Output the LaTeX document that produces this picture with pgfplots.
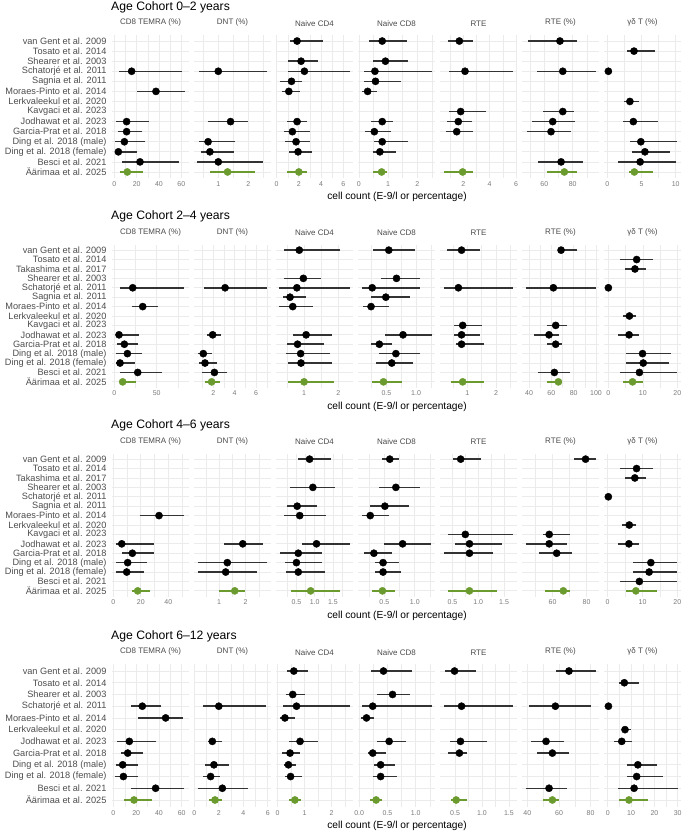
\documentclass[border=0pt]{standalone}
\usepackage{fontspec}
\setmainfont{Liberation Sans}
\usepackage{pgfplots}
\usepackage{pgfplotstable}
\pgfplotsset{compat=1.18}

\definecolor{gridc}{HTML}{EBEBEB}
\definecolor{aarc}{HTML}{6B9A2F}
\definecolor{cic}{HTML}{333333}
\definecolor{tickc}{HTML}{7A7A7A}
\definecolor{labc}{HTML}{4D4D4D}
\definecolor{stripc}{HTML}{4A4A4A}

\newcommand{\noticklabel}{}

\pgfkeys{/pgfplots/table/ft/.style={x=m, y=r,
  x error plus expr={\thisrow{hi}-\thisrow{m}},
  x error minus expr={\thisrow{m}-\thisrow{lo}}}}

\pgfplotsset{
  panel/.style={scale only axis, width=77pt, height=143pt, anchor=north west,
    axis line style={draw=none}, tick style={draw=none}, major tick length=0pt, minor tick length=0pt,
    xmajorgrids=true, xminorgrids=true, ymajorgrids=true,
    major grid style={color=gridc, line width=0.75pt},
    minor grid style={color=gridc, line width=0.4pt},
    clip=false, yticklabel=\noticklabel,
    title style={at={(0.5,1)}, anchor=south, yshift=1.5pt, inner sep=1pt,
      font=\fontsize{8}{9}\selectfont, text=stripc},
    xticklabel style={font=\fontsize{7}{8}\selectfont, text=tickc},
    yticklabel style={font=\fontsize{9.2}{11}\selectfont, text=labc, xshift=-2pt}},
  cis/.style={only marks, mark=none, forget plot,
    error bars/.cd, x dir=both, x explicit, error mark=none,
    error bar style={line width=1.5pt, color=#1}, /pgfplots/.cd},
  pts/.style={only marks, mark=*, mark size=3.6pt, color=#1,
    mark options={draw=#1, fill=#1}, forget plot},
}

% black studies first, reference cohort (row 1, first line of each table) in green on top
\newcommand{\forest}[1]{%
  \addplot[skip coords between index={0}{1}, cis=cic] table[ft]{#1};
  \addplot[skip coords between index={1}{100}, cis=aarc] table[ft]{#1};
  \addplot[skip coords between index={0}{1}, pts=black] table[ft]{#1};
  \addplot[skip coords between index={1}{100}, pts=aarc] table[ft]{#1};
}
% [extra] column xmin xmax ticks ticklabels minorticks strip table
\newcommand{\panel}[9][]{%
  \begin{axis}[panel, cur, at={({112pt+82pt*#2},{-\ctop pt})},
    xmin=#3, xmax=#4, xtick={#5}, xticklabels={#6}, minor xtick={#7}, title={#8}, #1]
    \forest{#9}
  \end{axis}}

% ---------- Age 0-2 (rows: 1 = Äärimaa ... 14 = van Gent) ----------
\pgfplotstableread{
r m lo hi
1 11.6 5 25.4
11 15.5 4.2 60.3
9 37.3 20 63.3
6 11 1.5 31
5 11 3 24.5
4 9 0.6 27.5
3 3.6 0.6 20
2 23 6.6 58
}\Atemra
\pgfplotstableread{
r m lo hi
1 1.31 0.72 2.22
11 1.0 0.36 2.61
6 1.41 0.67 2.0
4 0.66 0.36 1.56
3 0.72 0.44 1.53
2 1.0 0.3 2.5
}\Adnt
\pgfplotstableread{
r m lo hi
1 2.0 0.95 2.73
14 1.84 1.19 4.15
12 2.2 1.0 3.7
11 2.5 1.0 6.6
10 1.34 0.3 2.3
9 1.1 0.45 2.14
6 1.84 0.9 2.73
5 1.42 0.65 3.0
4 1.75 0.8 2.97
3 1.93 1.1 3.2
}\Acdf
\pgfplotstableread{
r m lo hi
1 0.78 0.47 0.98
14 0.8 0.35 1.66
12 0.91 0.49 1.69
11 0.55 0.17 2.49
10 0.57 0.18 1.46
9 0.3 0.09 0.61
6 0.8 0.43 1.18
5 0.53 0.2 1.1
4 0.8 0.53 1.67
3 0.72 0.47 1.26
}\Acde
\pgfplotstableread{
r m lo hi
1 1.95 0.56 2.7
14 1.7 0.86 2.7
11 2.13 0.94 5.8
7 1.8 0.94 3.7
6 1.62 0.73 2.63
5 1.5 0.66 2.7
}\Arte
\pgfplotstableread{
r m lo hi
1 74.1 62.1 82.8
14 71 48.7 82.8
11 73 55 96.2
7 73 59.3 81
6 65.9 51 81.6
5 64.7 47.5 78.6
2 71.8 55.8 87
}\Artp
\pgfplotstableread{
r m lo hi
1 3.95 3.1 6.7
13 3.9 2.9 7.0
11 0.15 0.15 0.15
8 3.3 2.4 4.7
6 3.8 2.3 7.4
4 4.9 3.3 10.2
3 5.5 3.6 9.1
2 4.8 1.6 10.1
}\Agd

% ---------- Age 2-4 (rows: 1 = Äärimaa ... 15 = van Gent) ----------
\pgfplotstableread{
r m lo hi
1 9.8 6.7 25.6
11 21.7 6.7 82.7
9 33.5 20.5 52
6 5.5 1.6 29.5
5 11.8 2.8 28.3
4 15.4 1.6 32.3
3 6.7 1.6 24.4
2 27.6 6.7 56
}\Btemra
\pgfplotstableread{
r m lo hi
1 1.84 1.22 2.6
11 3.1 1.13 7.0
6 1.94 1.38 2.69
4 1.06 0.53 1.84
3 1.22 0.69 2.37
2 2.1 0.9 3.25
}\Bdnt
\pgfplotstableread{
r m lo hi
1 1.0 0.54 1.88
15 0.86 0.42 2.05
12 0.98 0.42 1.49
11 0.79 0.28 2.34
10 0.59 0.38 1.06
9 0.67 0.28 1.27
6 1.06 0.69 1.83
5 0.81 0.5 1.59
4 0.9 0.47 1.76
3 0.91 0.52 1.83
}\Bcdf
\pgfplotstableread{
r m lo hi
1 0.45 0.25 0.76
15 0.54 0.28 0.99
12 0.67 0.41 1.07
11 0.26 0.08 1.07
10 0.49 0.24 0.89
9 0.24 0.11 0.54
6 0.78 0.48 1.27
5 0.38 0.24 0.6
4 0.66 0.38 1.07
3 0.59 0.33 0.95
}\Bcde
\pgfplotstableread{
r m lo hi
1 0.84 0.45 1.59
15 0.8 0.3 1.44
11 0.69 0.19 2.58
7 0.84 0.55 1.5
6 0.8 0.53 1.44
5 0.8 0.59 1.59
}\Brte
\pgfplotstableread{
r m lo hi
1 66.3 56.4 69.9
15 68.7 65.7 82.7
11 61.8 37.3 100
7 63.9 55.8 73.7
6 57.9 44.5 67.2
5 63.9 55.8 69.9
2 62.7 48.4 76.7
}\Brtp
\pgfplotstableread{
r m lo hi
1 7.0 4.1 10.0
14 8.2 3.4 12.9
13 7.7 4.8 10.9
11 0.0 0.0 0.0
8 6.1 4.2 8.0
6 6.0 2.9 9.0
4 9.9 5.0 18.1
3 10.1 5.1 17.7
2 9.0 3.4 20.0
}\Bgd

% ---------- Age 4-6 (rows: 1 = Äärimaa ... 15 = van Gent) ----------
\pgfplotstableread{
r m lo hi
1 17.7 13.8 26.6
9 33.2 19.4 51.6
6 6.1 1.7 29.5
5 13.8 6.5 29.5
4 10.4 1.9 24.2
3 9.7 1.7 22.5
}\Ctemra
\pgfplotstableread{
r m lo hi
1 1.59 1.0 1.98
6 1.89 1.2 2.66
4 1.31 0.2 2.79
3 1.25 0.2 2.41
}\Cdnt
\pgfplotstableread{
r m lo hi
1 0.89 0.35 1.69
15 0.86 0.55 1.46
12 0.95 0.31 1.56
10 0.52 0.24 1.07
9 0.59 0.15 1.3
6 1.05 0.66 1.98
5 0.55 0.04 1.21
4 0.5 0.18 1.21
3 0.55 0.22 1.29
}\Ccdf
\pgfplotstableread{
r m lo hi
1 0.47 0.3 0.68
15 0.59 0.47 0.74
12 0.69 0.42 1.09
10 0.51 0.26 0.91
9 0.27 0.13 0.57
6 0.8 0.5 1.27
5 0.33 0.16 0.62
4 0.48 0.35 0.74
3 0.48 0.34 0.78
}\Ccde
\pgfplotstableread{
r m lo hi
1 0.83 0.42 1.37
15 0.66 0.52 1.05
7 0.75 0.42 1.68
6 0.83 0.55 1.45
5 0.83 0.34 1.29
}\Crte
\pgfplotstableread{
r m lo hi
1 66.3 55.5 70.2
15 79.4 72.7 85.3
7 58 54.5 70.2
6 58 44.3 68.2
5 62.4 52.2 71.2
}\Crtp
\pgfplotstableread{
r m lo hi
1 8.1 5.3 14.3
14 8.3 3.5 12.9
13 7.8 5.0 11.0
11 0.2 0.2 0.2
8 6.2 4.2 8.1
6 6.1 3.1 9.1
4 12.4 7.2 20.0
3 11.9 7.2 19.8
2 9.1 3.5 20.0
}\Cgd

% ---------- Age 6-12 (rows: 1 = Äärimaa ... 12 = van Gent) ----------
\pgfplotstableread{
r m lo hi
1 18.1 9.4 33.6
9 25.4 15.5 41.5
8 45.9 21.9 61.4
6 14 3.5 37.1
5 12.6 6.7 26.3
4 8.2 2 21.3
3 8.8 1.5 21.3
2 37.1 15.5 62.3
}\Dtemra
\pgfplotstableread{
r m lo hi
1 1.69 1.22 2.23
9 2.0 0.74 5.9
6 1.47 1.14 2.23
4 1.6 0.87 2.86
3 1.33 0.74 2.1
2 2.29 0.27 4.41
}\Ddnt
\pgfplotstableread{
r m lo hi
1 0.64 0.43 0.86
12 0.6 0.36 1.13
10 0.56 0.3 1.0
9 0.7 0.19 2.68
8 0.27 0.09 0.64
6 0.83 0.42 1.5
5 0.46 0.15 0.83
4 0.4 0.23 0.67
3 0.48 0.27 0.89
}\Dcdf
\pgfplotstableread{
r m lo hi
1 0.3 0.19 0.41
12 0.43 0.21 0.94
10 0.59 0.32 0.89
9 0.24 0.05 1.28
8 0.13 0.03 0.27
6 0.53 0.32 0.83
5 0.24 0.15 0.47
4 0.38 0.26 0.64
3 0.38 0.24 0.66
}\Dcde
\pgfplotstableread{
r m lo hi
1 0.52 0.42 0.72
12 0.49 0.31 0.89
9 0.62 0.3 1.58
6 0.6 0.41 1.09
5 0.58 0.37 0.72
}\Drte
\pgfplotstableread{
r m lo hi
1 55.8 50.1 60.2
12 66.3 58.1 83.2
9 57.7 41 80
6 51.8 42.1 63.4
5 55.8 46.3 66.3
2 53.7 39.2 65.3
}\Drtp
\pgfplotstableread{
r m lo hi
1 9.1 5 17.1
11 7.1 5 13.6
9 0.3 0.3 0.3
7 7.4 6 9.9
6 6 2.7 10.6
4 12.9 8.4 21
3 12.4 8.1 23.6
2 11.3 4.6 30
}\Dgd

\newcommand{\cohorttext}[2]{%
  \node[anchor=west, inner sep=0pt, font=\fontsize{12.2}{14}\selectfont] at (111pt,{-#1pt+28pt}) {#2};
  \node[inner sep=0pt, font=\fontsize{10.2}{12}\selectfont] at (397pt,{-#1pt-162pt}) {cell count (E-9/l or percentage)};
}

\begin{document}
\begin{tikzpicture}
\useasboundingbox (0pt,0pt) rectangle (685pt,-833pt);

% ===== 0-2 years =====
\def\ctop{35}
\pgfplotsset{cur/.style={ymin=0.4, ymax=14.6, ytick={1,...,14}}}
\cohorttext{35}{Age Cohort 0–2 years}
\panel[yticklabels={Äärimaa et al. 2025, Besci et al. 2021, Ding et al. 2018 (female), Ding et al. 2018 (male), Garcia-Prat et al. 2018, Jodhawat et al. 2023, Kavgaci et al. 2023, Lerkvaleekul et al. 2020, Moraes-Pinto et al. 2014, Sagnia et al. 2011, Schatorjé et al. 2011, Shearer et al. 2003, Tosato et al. 2014, van Gent et al. 2009}]
  {0}{-2.1}{66.9}{0,20,40,60}{0,20,40,60}{10,30,50}{CD8 TEMRA (\%)}{\Atemra}
\panel{1}{0.19}{2.76}{1,2}{1,2}{0.5,1.5,2.5}{DNT (\%)}{\Adnt}
\panel{2}{-0.05}{6.86}{0,2,4,6}{0,2,4,6}{1,3,5}{Naive CD4}{\Acdf}
\panel{3}{-0.03}{2.61}{0,1,2}{0,1,2}{0.5,1.5,2.5}{Naive CD8}{\Acde}
\panel{4}{0.23}{6.08}{2,4,6}{2,4,6}{1,3,5}{RTE}{\Arte}
\panel{5}{44.2}{98.6}{60,80}{60,80}{50,70,90}{RTE (\%)}{\Artp}
\panel{6}{-0.49}{10.78}{0,5,10}{0,5,10}{2.5,7.5}{γδ T (\%)}{\Agd}

% ===== 2-4 years =====
\def\ctop{244.5}
\pgfplotsset{cur/.style={ymin=0.4, ymax=15.6, ytick={1,...,15}}}
\cohorttext{244.5}{Age Cohort 2–4 years}
\panel[yticklabels={Äärimaa et al. 2025, Besci et al. 2021, Ding et al. 2018 (female), Ding et al. 2018 (male), Garcia-Prat et al. 2018, Jodhawat et al. 2023, Kavgaci et al. 2023, Lerkvaleekul et al. 2020, Moraes-Pinto et al. 2014, Sagnia et al. 2011, Schatorjé et al. 2011, Shearer et al. 2003, Takashima et al. 2017, Tosato et al. 2014, van Gent et al. 2009}]
  {0}{-2.8}{88.2}{0,50}{0,50}{25,75}{CD8 TEMRA (\%)}{\Btemra}
\panel{1}{0.19}{7.4}{2,4,6}{2,4,6}{1,3,5,7}{DNT (\%)}{\Bdnt}
\panel{2}{0.18}{2.43}{1,2}{1,2}{0.5,1.5}{Naive CD4}{\Bcdf}
\panel{3}{0.02}{1.32}{0,0.5,1}{0.0,0.5,1.0}{0.25,0.75,1.25}{Naive CD8}{\Bcde}
\panel{4}{0.05}{2.73}{1,2}{1,2}{0.5,1.5,2.5}{RTE}{\Brte}
\panel{5}{33.7}{102.7}{40,60,80,100}{40,60,80,100}{50,70,90}{RTE (\%)}{\Brtp}
\panel{6}{-1.27}{21.05}{0,10,20}{0,10,20}{5,15}{γδ T (\%)}{\Bgd}

% ===== 4-6 years =====
\def\ctop{453.5}
\pgfplotsset{cur/.style={ymin=0.4, ymax=15.6, ytick={1,...,15}}}
\cohorttext{453.5}{Age Cohort 4–6 years}
\panel[yticklabels={Äärimaa et al. 2025, Besci et al. 2021, Ding et al. 2018 (female), Ding et al. 2018 (male), Garcia-Prat et al. 2018, Jodhawat et al. 2023, Kavgaci et al. 2023, Lerkvaleekul et al. 2020, Moraes-Pinto et al. 2014, Sagnia et al. 2011, Schatorjé et al. 2011, Shearer et al. 2003, Takashima et al. 2017, Tosato et al. 2014, van Gent et al. 2009}]
  {0}{-1.0}{55.0}{0,20,40}{0,20,40}{10,30,50}{CD8 TEMRA (\%)}{\Ctemra}
\panel{1}{0.06}{2.95}{1,2}{1,2}{0.5,1.5,2.5}{DNT (\%)}{\Cdnt}
\panel{2}{-0.06}{2.05}{0.5,1,1.5}{0.5,1.0,1.5}{0.25,0.75,1.25,1.75}{Naive CD4}{\Ccdf}
\panel{3}{0.07}{1.33}{0.5,1}{0.5,1.0}{0.25,0.75,1.25}{Naive CD8}{\Ccde}
\panel{4}{0.26}{1.75}{0.5,1,1.5}{0.5,1.0,1.5}{0.75,1.25}{RTE}{\Crte}
\panel{5}{42.0}{87.3}{60,80}{60,80}{50,70}{RTE (\%)}{\Crtp}
\panel{6}{-1.05}{21.05}{0,10,20}{0,10,20}{5,15}{γδ T (\%)}{\Cgd}

% ===== 6-12 years =====
\def\ctop{664}
\pgfplotsset{cur/.style={ymin=0.4, ymax=12.6, ytick={1,...,12}}}
\cohorttext{664}{Age Cohort 6–12 years}
\panel[yticklabels={Äärimaa et al. 2025, Besci et al. 2021, Ding et al. 2018 (female), Ding et al. 2018 (male), Garcia-Prat et al. 2018, Jodhawat et al. 2023, Lerkvaleekul et al. 2020, Moraes-Pinto et al. 2014, Schatorjé et al. 2011, Shearer et al. 2003, Tosato et al. 2014, van Gent et al. 2009}]
  {0}{-1.2}{66.4}{0,20,40,60}{0,20,40,60}{10,30,50}{CD8 TEMRA (\%)}{\Dtemra}
\panel{1}{-0.03}{6.27}{0,2,4,6}{0,2,4,6}{1,3,5}{DNT (\%)}{\Ddnt}
\panel{2}{-0.06}{2.79}{0,1,2}{0,1,2}{0.5,1.5,2.5}{Naive CD4}{\Dcdf}
\panel{3}{-0.02}{1.34}{0,0.5,1}{0.0,0.5,1.0}{0.25,0.75,1.25}{Naive CD8}{\Dcde}
\panel{4}{0.22}{1.65}{0.5,1,1.5}{0.5,1.0,1.5}{0.75,1.25}{RTE}{\Drte}
\panel{5}{36.6}{85.3}{40,60,80}{40,60,80}{50,70}{RTE (\%)}{\Drtp}
\panel{6}{-1.6}{31.4}{0,10,20,30}{0,10,20,30}{5,15,25}{γδ T (\%)}{\Dgd}

\end{tikzpicture}
\end{document}
